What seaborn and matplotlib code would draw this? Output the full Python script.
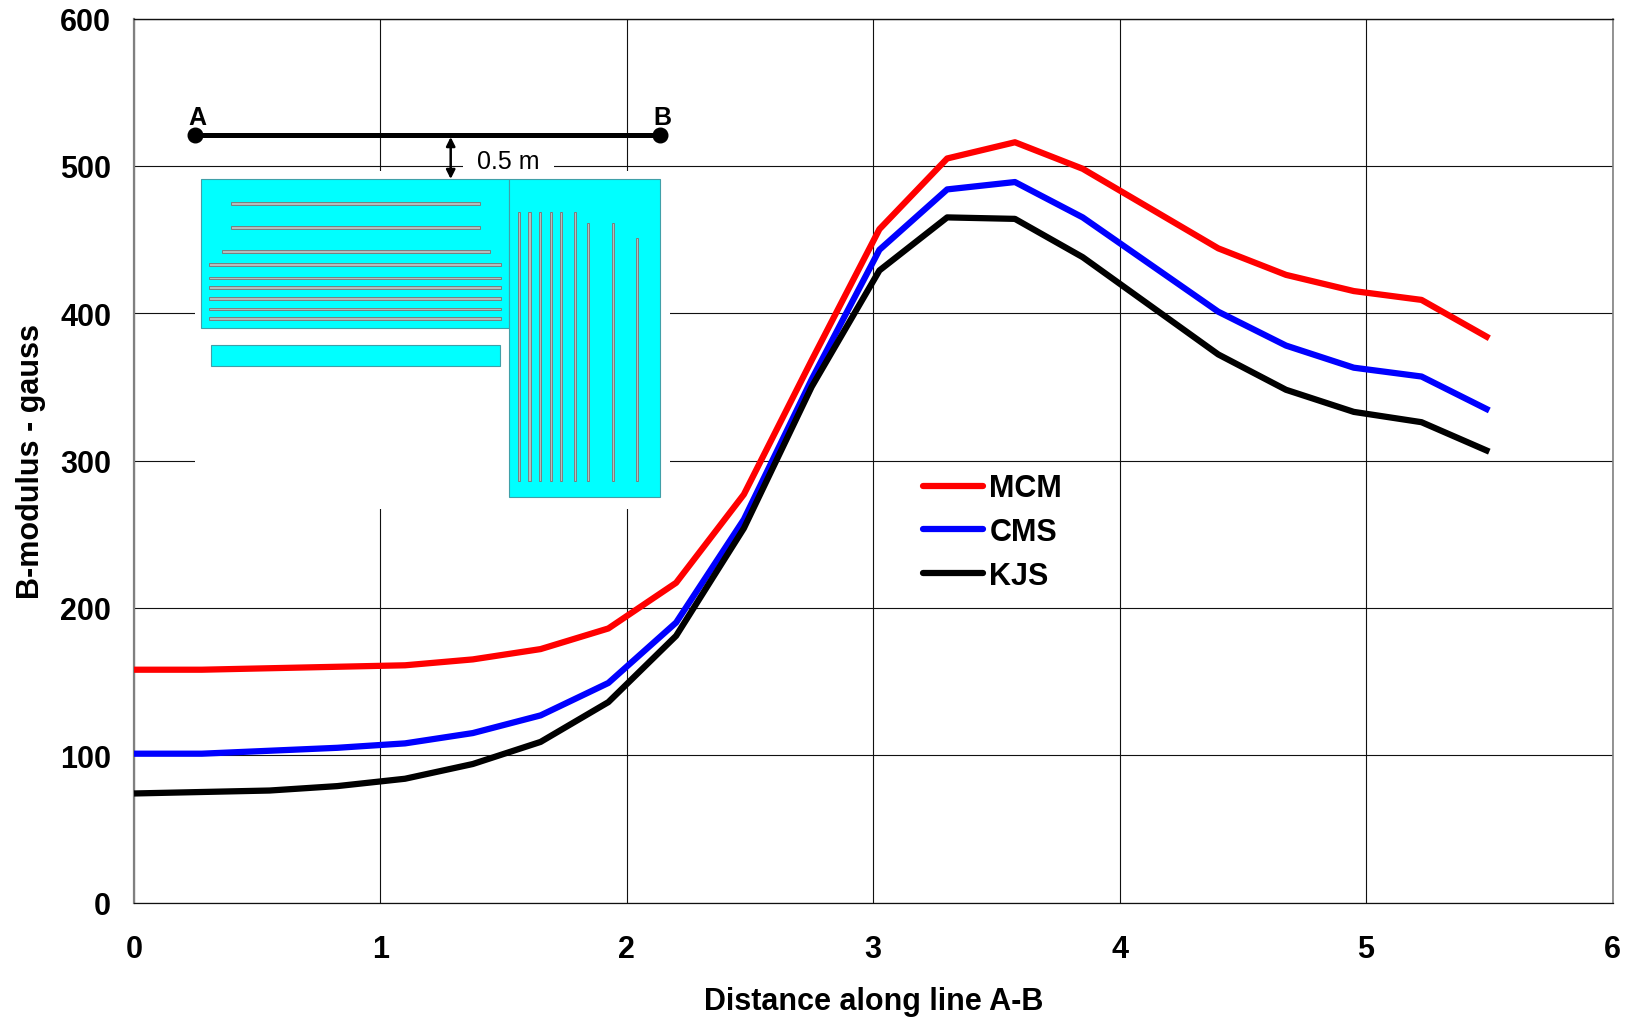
import numpy as np
import pandas as pd
import matplotlib
matplotlib.use("Agg")
import matplotlib.pyplot as plt
from matplotlib.patches import Rectangle, FancyArrowPatch
from matplotlib.transforms import Affine2D
import seaborn as sns

distance = [0, 0.275, 0.55, 0.825, 1.1, 1.375, 1.65, 1.925, 2.2, 2.475, 2.75,
            3.025, 3.3, 3.575, 3.85, 4.125, 4.4, 4.675, 4.95, 5.225, 5.5]
mcm = [158, 158, 159, 160, 161, 165, 172, 186, 217, 277, 368,
       457, 505, 516, 498, 471, 444, 426, 415, 409, 383]
cms = [101, 101, 103, 105, 108, 115, 127, 149, 190, 260, 355,
       443, 484, 489, 465, 433, 401, 378, 363, 357, 334]
kjs = [74, 75, 76, 79, 84, 94, 109, 136, 181, 254, 350,
       429, 465, 464, 438, 405, 372, 348, 333, 326, 306]
series_names = ["MCM", "CMS", "KJS"]
series_colors = ["#ff0000", "#0000ff", "#000000"]
x_ticks = [0, 1, 2, 3, 4, 5, 6]
y_ticks = [0, 100, 200, 300, 400, 500, 600]

W, H = 1628, 1020
sns.set_theme(style="white")
plt.rcParams["font.family"] = ["Liberation Sans", "DejaVu Sans"]

fig = plt.figure(figsize=(W / 100, H / 100), dpi=100, facecolor="white")
L, R, T, B = 134, 1612.5, 19.5, 903.5
ax = fig.add_axes([L / W, 1 - B / H, (R - L) / W, (B - T) / H])

df = pd.concat([
    pd.DataFrame({"x": distance, "y": vals, "series": name})
    for name, vals in zip(series_names, [mcm, cms, kjs])
])
sns.lineplot(data=df, x="x", y="y", hue="series", hue_order=series_names,
             palette=dict(zip(series_names, series_colors)), estimator=None,
             sort=False, linewidth=4.5, ax=ax, zorder=10, clip_on=False,
             solid_capstyle="butt", solid_joinstyle="round")

ax.set_xlim(0, 6)
ax.set_ylim(0, 600)
ax.set_xticks(x_ticks)
ax.set_yticks(y_ticks)
ax.grid(True, color="#111111", linewidth=0.8, zorder=1)
ax.set_axisbelow(True)
ax.spines["left"].set_color("#808080")
ax.spines["left"].set_linewidth(1.6)
ax.spines["right"].set_color("#808080")
ax.spines["right"].set_linewidth(1.2)
ax.spines["top"].set_color("#111111")
ax.spines["top"].set_linewidth(1.0)
ax.spines["bottom"].set_color("#111111")
ax.spines["bottom"].set_linewidth(0.9)
ax.tick_params(axis="x", length=7.5, width=1.6, color="#808080", pad=15, labelsize=22)
ax.tick_params(axis="y", length=7.5, width=0.8, color="#111111", pad=9, labelsize=22)
for lab in ax.get_xticklabels() + ax.get_yticklabels():
    lab.set_fontweight("bold")
    lab.set_color("black")
ax.set_xlabel("Distance along line A-B", fontsize=22, fontweight="bold", color="black", labelpad=16)
ax.set_ylabel("B-modulus - gauss", fontsize=22, fontweight="bold", color="black", labelpad=10.5)

sns.move_legend(ax, loc="center left", bbox_to_anchor=(923 / W, 1 - 533 / H),
                bbox_transform=fig.transFigure, frameon=False, title=None,
                fontsize=22, handlelength=1.95, handletextpad=0.22,
                labelspacing=0.45, borderpad=0, borderaxespad=0)
leg = ax.get_legend()
leg.set_zorder(11)
for t in leg.get_texts():
    t.set_fontweight("bold")
    t.set_color("black")
for h in leg.get_lines():
    h.set_solid_capstyle("round")
    h.set_linewidth(4.5)

# Inset sketch, placed in pixels from the top-left corner of the figure
px = Affine2D().scale(1, -1).translate(0, H)
Z = 3
CYAN = "#00ffff"
EDGE = "#40a0a8"


def rect(x0, y0, x1, y1, fc, ec="none", lw=0, z=Z):
    fig.add_artist(Rectangle((x0, y0), x1 - x0, y1 - y0, transform=px, fc=fc, ec=ec, lw=lw, zorder=z))


def slot(x0, y0, x1, y1):
    fig.add_artist(Rectangle((x0, y0), x1 - x0, y1 - y0, transform=px, fc="#b4bcbc",
                             ec="#787f7f", lw=0.7, zorder=Z + 1))


ax.set_zorder(1)
ax.patch.set_zorder(0)

rect(195, 172, 670, 510, "white", z=2)
rect(463, 150, 554, 172, "white", z=2)
rect(201.4, 180, 509.3, 329.3, CYAN, ec=EDGE, lw=0.8)
rect(509.3, 180, 660.4, 498.3, CYAN, ec=EDGE, lw=0.8)
rect(210.7, 345.7, 500, 367.3, CYAN, ec=EDGE, lw=0.8)

h_slots = [(230.7, 479.6, 204.3), (230.7, 479.6, 228.3), (221.8, 490, 252.3),
           (209.3, 501.4, 265.3), (209.3, 501.4, 279), (209.3, 501.4, 288.3),
           (209.3, 501.4, 299.3), (209.3, 501.4, 309.7), (209.3, 501.4, 319.3)]
for x0, x1, y in h_slots:
    slot(x0, y - 1.2, x1, y + 1.2)
v_slots = [(519, 212.7), (529.6, 212.7), (540, 212.7), (550.7, 212.7), (561, 212.7),
           (574.7, 212.7), (587.9, 224), (612.9, 224), (636.8, 238.7)]
for x, y0 in v_slots:
    slot(x - 1.2, y0, x + 1.2, 482.3)

fig.add_artist(plt.Line2D([195, 660], [135.5, 135.5], transform=px, color="black", lw=3.6,
                          marker="o", ms=10.5, zorder=5))
fig.add_artist(FancyArrowPatch((450.7, 138), (450.7, 180), transform=px, arrowstyle="<|-|>",
                               mutation_scale=13, color="black", lw=1.8, shrinkA=0, shrinkB=0, zorder=5))
fig.text(508, 162.5, "0.5 m", transform=px, fontsize=18, color="black", ha="center", va="center", zorder=5)
fig.text(197, 118, "A", transform=px, fontsize=18, fontweight="bold", color="black", ha="center", va="center", zorder=5)
fig.text(662, 118, "B", transform=px, fontsize=18, fontweight="bold", color="black", ha="center", va="center", zorder=5)

fig.savefig("out.png", dpi=100, facecolor="white")
